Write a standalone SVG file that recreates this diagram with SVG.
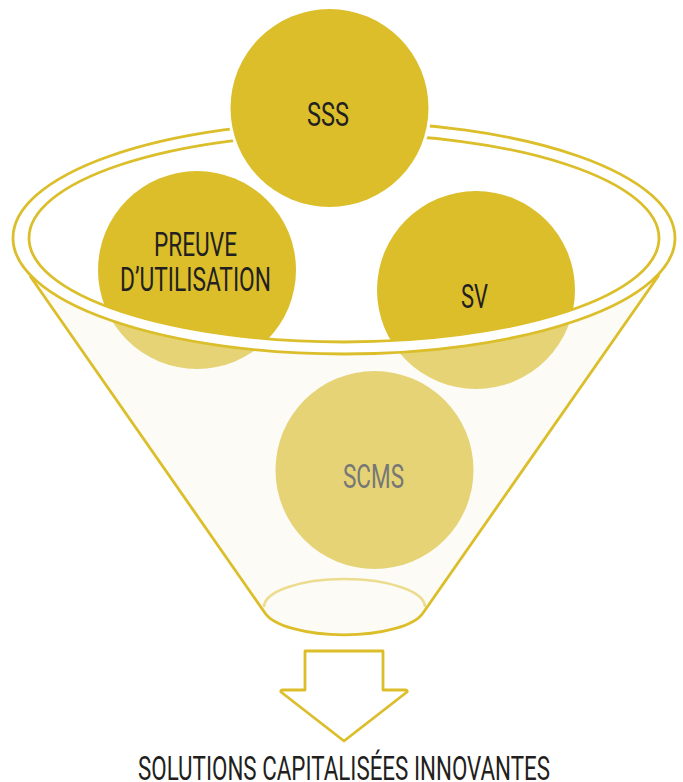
<svg xmlns="http://www.w3.org/2000/svg" width="683" height="782" viewBox="0 0 683 782">
<style>
text{font-family:"Roboto","Liberation Sans",sans-serif;font-size:33px;fill:#231f20}
.line{fill:none;stroke:#dbbe2a;stroke-width:2.8}
.gold{fill:#dbbe2a}
.light{fill:#e5d375}
</style>
<defs>
<clipPath id="bowl"><ellipse cx="344" cy="238" rx="315.500" ry="104.500"/></clipPath>
</defs>
<rect width="683" height="782" fill="#fff"/>
<g id="funnel">
<path d="M30 276L265 613A81 28 0 0 0 423 613L659 275Z" fill="#fcfbf5"/>
<path class="line" d="M30 276L265 613A81 28 0 0 0 423 613L659 275"/>
<path d="M264 607A80.500 28 0 0 1 425 607" fill="none" stroke="#ecdc90" stroke-width="2.600"/>
</g>
<g id="lower-circles">
<circle class="light" cx="197" cy="270" r="99"/>
<circle class="light" cx="476" cy="290" r="99"/>
</g>
<g id="rim">
<ellipse class="line" cx="344" cy="238" rx="331" ry="116" style="fill:#fff"/>
<ellipse class="line" cx="344" cy="238" rx="315" ry="104"/>
</g>
<g id="node-sss">
<circle class="gold" cx="329.500" cy="108" r="99" stroke="#fff" stroke-width="6" paint-order="stroke"/>
<text x="307" y="126" textLength="42" lengthAdjust="spacingAndGlyphs">SSS</text>
</g>
<g id="node-preuve">
<circle class="gold" cx="197" cy="270" r="99" clip-path="url(#bowl)"/>
<text x="154" y="256" textLength="83" lengthAdjust="spacingAndGlyphs">PREUVE</text>
<text x="120" y="291" textLength="151" lengthAdjust="spacingAndGlyphs">D’UTILISATION</text>
</g>
<g id="node-sv">
<circle class="gold" cx="476" cy="290" r="99" clip-path="url(#bowl)"/>
<text x="461" y="308" textLength="27" lengthAdjust="spacingAndGlyphs">SV</text>
</g>
<g id="node-scms">
<circle class="light" cx="374.500" cy="470" r="99"/>
<text x="343" y="488" textLength="61" lengthAdjust="spacingAndGlyphs" style="fill:#777">SCMS</text>
</g>
<g id="arrow">
<path class="line" stroke-linejoin="round" d="M305 651H383V690H405Q408 690 407 692L344 741L281 692Q280 690 283 690H305Z"/>
</g>
<g id="result">
<text x="138" y="780" textLength="412" lengthAdjust="spacingAndGlyphs">SOLUTIONS CAPITALISÉES INNOVANTES</text>
</g>
</svg>
